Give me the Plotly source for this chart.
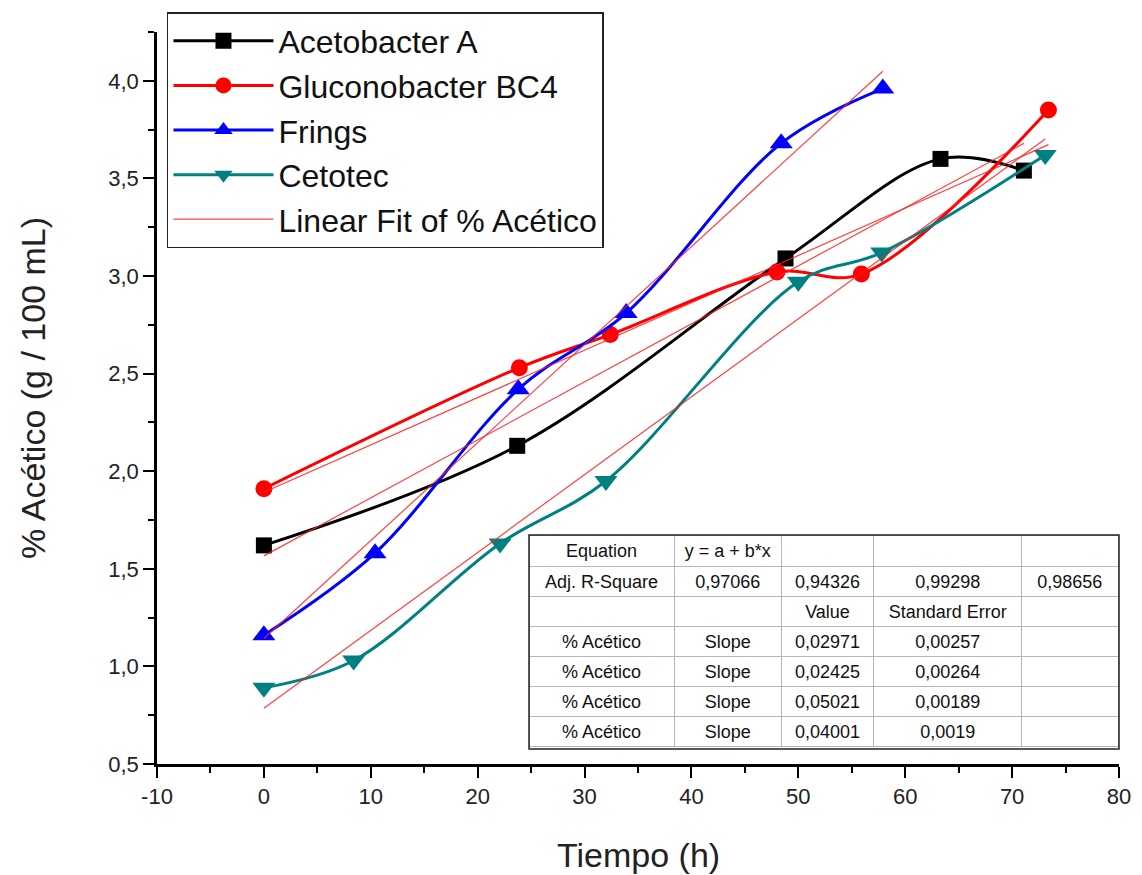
import numpy as np
import plotly.graph_objects as go

# ---- data ----
aceto_x = [0, 23.7, 48.8, 63.3, 71.1]
aceto_y = [1.62, 2.13, 3.09, 3.60, 3.54]

glucono_x = [0, 23.9, 32.4, 48.0, 55.9, 73.4]
glucono_y = [1.91, 2.53, 2.70, 3.02, 3.01, 3.85]

frings_x = [0, 10.4, 23.8, 33.9, 48.4, 57.9]
frings_y = [1.16, 1.58, 2.42, 2.81, 3.68, 3.96]

cetotec_x = [0, 8.4, 22.1, 32.0, 50.0, 57.8, 73.1]
cetotec_y = [0.89, 1.03, 1.63, 1.95, 2.97, 3.12, 3.62]

series_names = ["Acetobacter A", "Gluconobacter BC4", "Frings", "Cetotec"]
fit_name = "Linear Fit of % Acético"
x_title = "Tiempo (h)"
y_title = "% Acético (g / 100 mL)"

x_tick_vals = [-10, 0, 10, 20, 30, 40, 50, 60, 70, 80]

table_header = ["Equation", "y\u00a0=\u00a0a\u00a0+\u00a0b*x", "", "", ""]
table_rows = [
    ["Adj. R-Square", "0,97066", "0,94326", "0,99298", "0,98656"],
    ["", "", "Value", "Standard Error", ""],
    ["% Acético", "Slope", "0,02971", "0,00257", ""],
    ["% Acético", "Slope", "0,02425", "0,00264", ""],
    ["% Acético", "Slope", "0,05021", "0,00189", ""],
    ["% Acético", "Slope", "0,04001", "0,0019", ""],
]

# ---- styling ----
FONT = "Arial, Liberation Sans, sans-serif"
colors = ["#000000", "#ff0000", "#0000ff", "#008080"]
symbols = ["square", "circle", "triangle-up", "triangle-down"]
msizes = [16, 17, 20, 20]

fig = go.Figure()

data = [(aceto_x, aceto_y), (glucono_x, glucono_y), (frings_x, frings_y), (cetotec_x, cetotec_y)]

for (xs, ys), name, c, s, ms in zip(data, series_names, colors, symbols, msizes):
    fig.add_trace(go.Scatter(
        x=xs, y=ys, name=name, mode="lines+markers",
        line=dict(color=c, width=3, shape="spline", smoothing=1.0),
        marker=dict(symbol=s, size=ms, color=c, line=dict(width=0)),
    ))

for i, (xs, ys) in enumerate(data):
    b, a = np.polyfit(xs, ys, 1)
    xf = [xs[0], xs[-1]]
    yf = [a + b * v for v in xf]
    fig.add_trace(go.Scatter(
        x=xf, y=yf, name=fit_name, mode="lines",
        line=dict(color="rgba(255,30,30,0.85)", width=1.2),
        legendgroup="fit", showlegend=(i == 0),
    ))

# table
cols = list(zip(*table_rows))
fig.add_trace(go.Table(
    domain=dict(x=[0.3867, 1.0], y=[0.0205, 0.3128]),
    columnwidth=[146, 108, 93, 149, 97],
    header=dict(values=table_header, height=31, align="center",
                fill_color="white", line=dict(color="#b5b5b5", width=1),
                font=dict(family=FONT, size=18, color="#111")),
    cells=dict(values=[list(c) for c in cols], height=30, align="center",
               fill_color="white", line=dict(color="#b5b5b5", width=1),
               font=dict(family=FONT, size=18, color="#111")),
))

fig.add_shape(type="rect", xref="paper", yref="paper",
              x0=0.3867, x1=1.0, y0=0.0205, y1=0.3128,
              line=dict(color="#222", width=1.5), layer="above")

# axis titles
fig.add_annotation(text=x_title, xref="paper", yref="paper", x=0.5, y=-0.1243,
                   xanchor="center", yanchor="middle", showarrow=False,
                   font=dict(size=34, family=FONT, color="#222"))
fig.add_annotation(text=y_title, xref="paper", yref="paper", x=-0.1289, y=0.5137,
                   xanchor="center", yanchor="middle", showarrow=False, textangle=-90,
                   font=dict(size=34, family=FONT, color="#222"))

fig.update_layout(
    width=1142, height=875,
    margin=dict(l=149, r=31, t=24, b=119, autoexpand=False),
    paper_bgcolor="white", plot_bgcolor="white",
    separators=",.",
    font=dict(family=FONT, color="#222"),
    showlegend=True,
    legend=dict(
        xref="container", yref="container",
        x=0.1392, y=0.9954, xanchor="left", yanchor="top",
        bgcolor="white", bordercolor="#222", borderwidth=1.5,
        font=dict(family=FONT, size=32, color="#111"),
        itemwidth=100, tracegroupgap=0,
    ),
    xaxis=dict(
        range=[-10, 80], showgrid=False, zeroline=False, automargin=False,
        showline=True, linecolor="black", linewidth=2.5,
        ticks="outside", ticklen=11, tickwidth=2, tickcolor="black",
        tickvals=x_tick_vals, ticktext=[str(v) for v in x_tick_vals],
        tickfont=dict(size=22, family=FONT, color="#222"),
        minor=dict(ticks="outside", ticklen=6, tickwidth=2, tickcolor="black",
                   tickmode="linear", tick0=-5, dtick=5),
    ),
    yaxis=dict(
        range=[0.5, 4.25], showgrid=False, zeroline=False, automargin=False,
        showline=True, linecolor="black", linewidth=2.5,
        ticks="outside", ticklen=11, tickwidth=2, tickcolor="black",
        tickmode="linear", tick0=0.5, dtick=0.5, tickformat=".1f",
        tickfont=dict(size=22, family=FONT, color="#222"),
        minor=dict(ticks="outside", ticklen=6, tickwidth=2, tickcolor="black",
                   tickmode="linear", tick0=0.25, dtick=0.25),
    ),
)

fig.write_html("out.html")
